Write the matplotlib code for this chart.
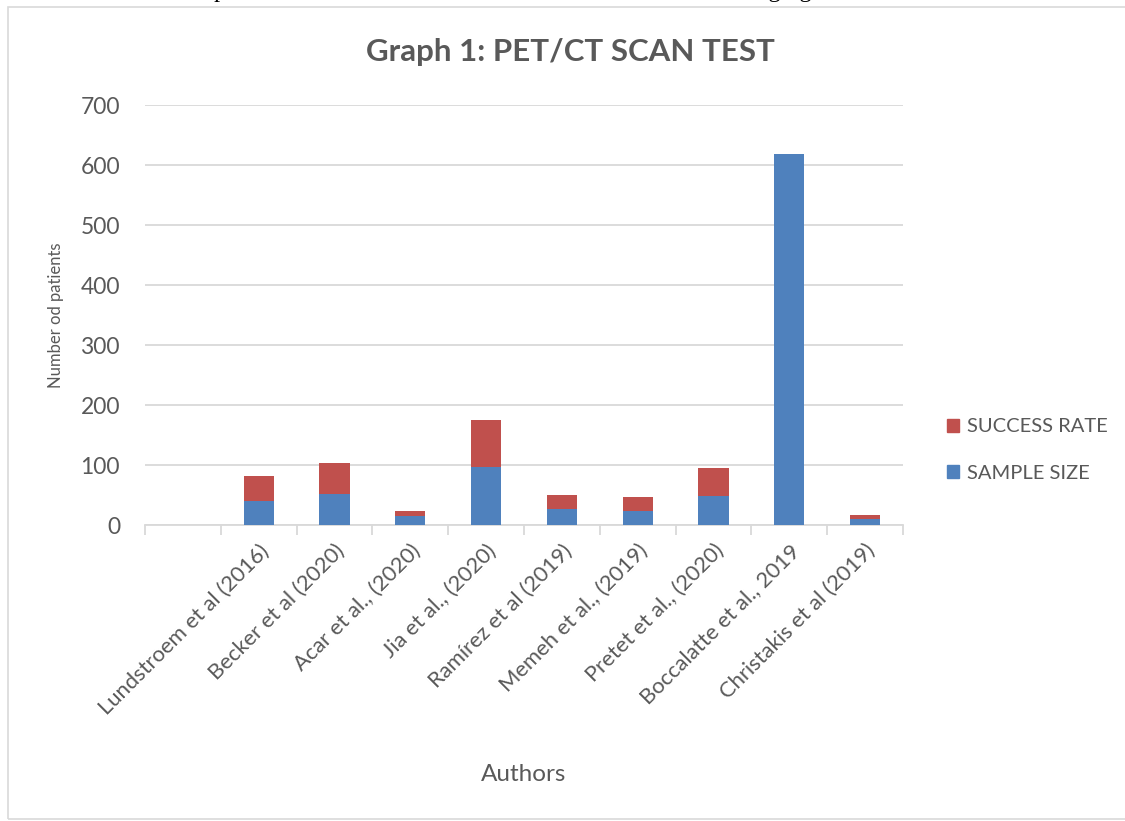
import matplotlib
matplotlib.use("Agg")
import matplotlib.pyplot as plt
from matplotlib.patches import Rectangle, Patch

categories = ["", "Lundstroem et al (2016)", "Becker et al (2020)", "Acar et al., (2020)",
              "Jia et al., (2020)", "Ramírez et al (2019)", "Memeh et al., (2019)",
              "Pretet et al., (2020)", "Boccalatte et al., 2019", "Christakis et al (2019)"]
sample_size = [0, 41, 52, 15, 97, 27, 24, 48, 619, 10]
success_rate = [0, 41, 51, 9, 78, 24, 23, 47, 0, 7]
yticks = [0, 100, 200, 300, 400, 500, 600, 700]

BLUE = "#4F81BD"
RED = "#C0504D"
GRID = "#D9D9D9"
TXT = "#595959"
FONT = "Lato"

W, H = 1125, 821
fig = plt.figure(figsize=(W / 100, H / 100), dpi=100)

# chart frame
fig.patches.append(Rectangle((8 / W, 1 - 819 / H), (W + 20) / W, (819 - 7) / H,
                             transform=fig.transFigure, fill=False,
                             edgecolor=GRID, linewidth=1.2))

# clipped document text above the chart (only its lowest pixels show)
fig.text(-0.005, 1 + 3 / H,
         "Table 1 shows the sample of the two studies and the success rate of nuclear imaging in those studies.",
         family="Liberation Serif", fontsize=17.5, color="black", va="baseline", ha="left")

ax = fig.add_axes([145 / W, 1 - 525.3 / H, (903 - 145) / W, (525.3 - 105) / H])
x = list(range(len(categories)))
ax.bar(x, sample_size, width=0.4, color=BLUE, label="SAMPLE SIZE", zorder=3)
ax.bar(x, success_rate, width=0.4, bottom=sample_size, color=RED, label="SUCCESS RATE", zorder=3)

ax.set_xlim(-0.5, len(categories) - 0.5)
ax.set_ylim(0, 700)
ax.set_yticks(yticks)
ax.set_yticklabels([str(v) for v in yticks], family=FONT, fontsize=16.5, color=TXT)
ax.tick_params(axis="y", length=0, pad=18)
ax.grid(axis="y", color=GRID, linewidth=1.3, zorder=0)

ax.set_xticks(x)
ax.set_xticklabels(categories, rotation=45, ha="right", rotation_mode="anchor",
                   family=FONT, fontsize=15.8, color=TXT)
ax.tick_params(axis="x", length=0, pad=11)
ax.set_xticks([i - 0.5 for i in range(len(categories) + 1)], minor=True)
ax.tick_params(axis="x", which="minor", length=7, color=GRID, width=1.3)

for s in ["top", "right", "left"]:
    ax.spines[s].set_visible(False)
ax.spines["bottom"].set_color(GRID)
ax.spines["bottom"].set_linewidth(1.3)

ax.set_ylabel("Number od patients", family=FONT, fontsize=12, color=TXT, labelpad=12)
ax.set_xlabel("Authors", family=FONT, fontsize=17.5, color=TXT, labelpad=33)

fig.text(570 / W, 1 - 52 / H, "Graph 1: PET/CT SCAN TEST", family=FONT, fontsize=22.5,
         fontweight="bold", color=TXT, ha="center", va="center")

handles = [Patch(color=RED, label="SUCCESS RATE"), Patch(color=BLUE, label="SAMPLE SIZE")]
leg = fig.legend(handles=handles, loc="center left", bbox_to_anchor=(929 / W, 1 - 450 / H),
                 frameon=False, prop={"family": FONT, "size": 14.5}, labelcolor=TXT,
                 handlelength=0.6, handleheight=0.6, handletextpad=0.4, labelspacing=1.45)

fig.savefig("out.png", dpi=100)
